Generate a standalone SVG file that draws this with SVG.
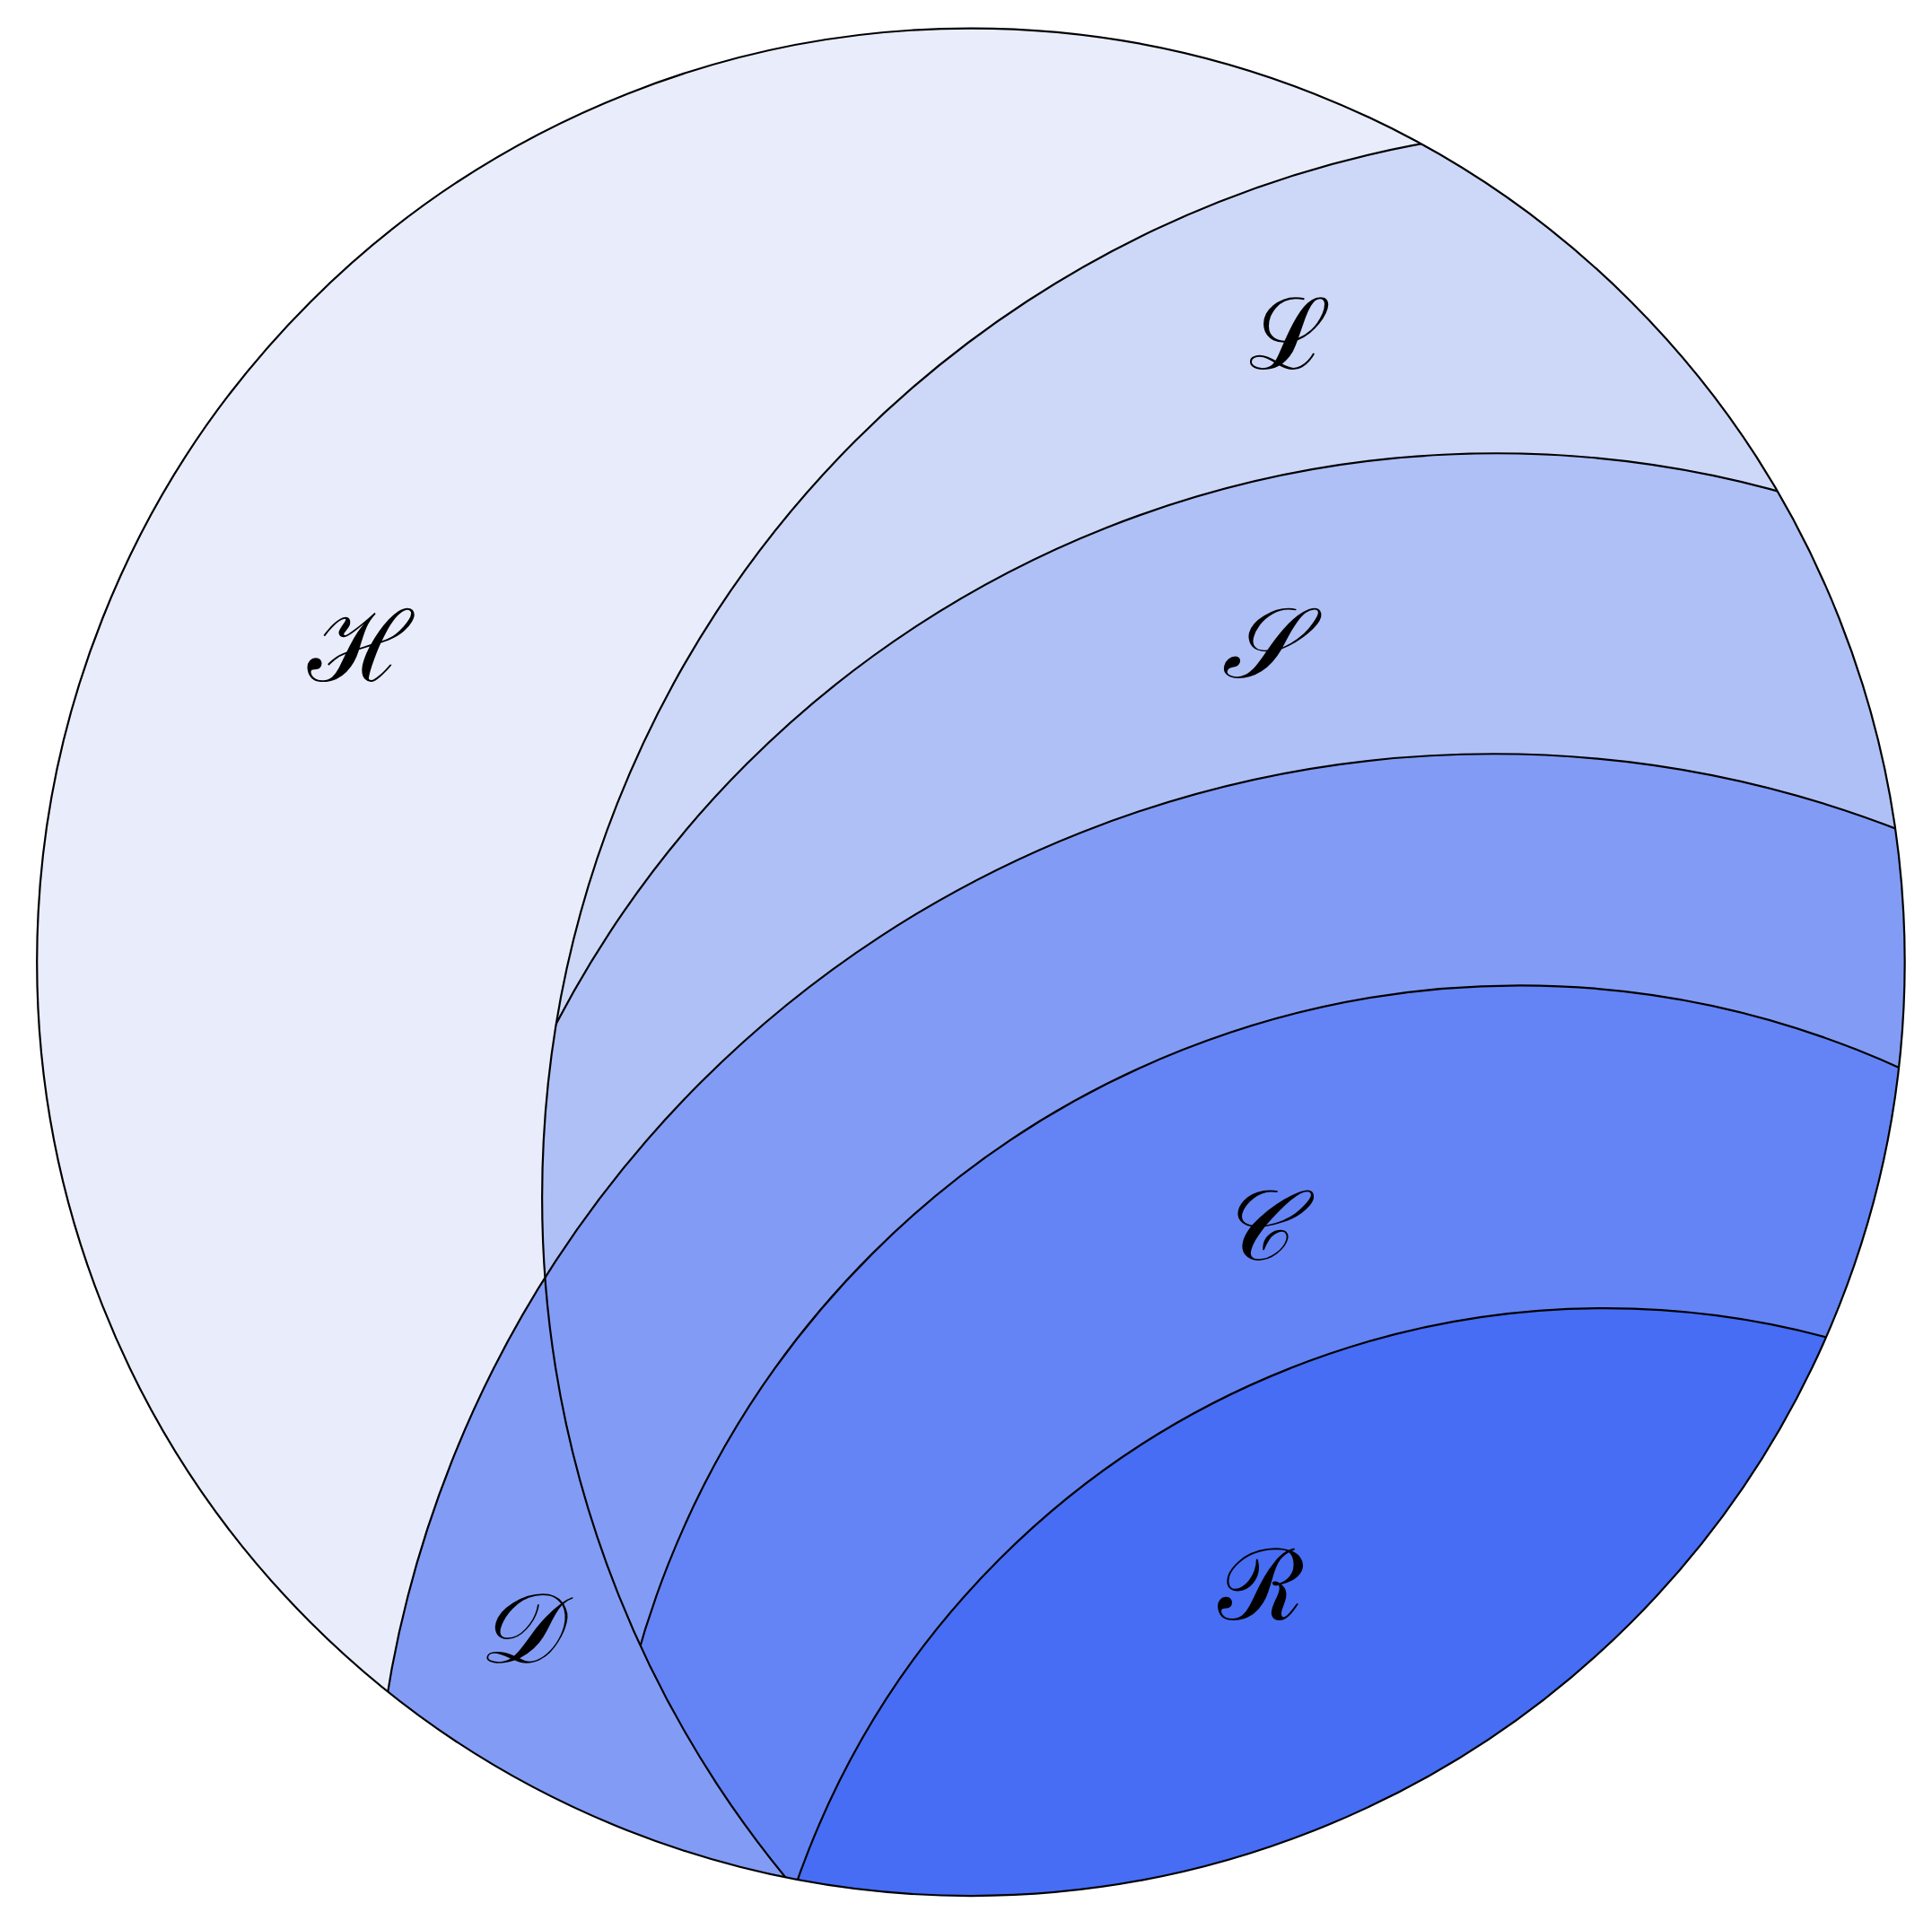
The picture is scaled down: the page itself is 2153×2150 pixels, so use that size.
<svg xmlns="http://www.w3.org/2000/svg" width="2153" height="2150" viewBox="0 0 2153 2150">
<style>
.ln{fill:none;stroke:#000;stroke-width:1.6}
.lb{font-family:"DejaVu Serif","Noto Sans",serif;font-style:italic;font-size:80px;text-anchor:middle;dominant-baseline:central;fill:#000}
</style>
<defs>
<clipPath id="cm"><circle cx="788" cy="781" r="758"/></clipPath>
<clipPath id="cl"><circle cx="1309.4" cy="972.2" r="869.4"/></clipPath>
</defs>
<rect width="2153" height="2150" fill="#fff"/>
<g transform="scale(1.373)">
<g id="H"><circle cx="788" cy="781" r="758" fill="#e9edfb"/></g>
<g clip-path="url(#cm)">
<g id="D"><circle cx="1212.1" cy="1521.4" r="909.4" fill="#829cf5"/></g>
<g clip-path="url(#cl)">
<g id="L"><rect x="0" y="0" width="1600" height="1600" fill="#cdd8f8"/></g>
<g id="S"><circle cx="1214.7" cy="1228.6" r="860.6" fill="#afc0f6"/></g>
<circle cx="1212.1" cy="1521.4" r="909.4" fill="#829cf5"/>
<g id="C"><circle cx="1233.6" cy="1543.4" r="743.4" fill="#6484f5"/></g>
<g id="R"><circle cx="1302.7" cy="1756.8" r="694.8" fill="#466df4"/></g>
</g>
<g id="connectors">
<circle class="ln" cx="1309.4" cy="972.2" r="869.4"/>
<circle class="ln" cx="1212.1" cy="1521.4" r="909.4"/>
<g clip-path="url(#cl)">
<circle class="ln" cx="1214.7" cy="1228.6" r="860.6"/>
<circle class="ln" cx="1233.6" cy="1543.4" r="743.4"/>
<circle class="ln" cx="1302.7" cy="1756.8" r="694.8"/>
</g>
</g>
</g>
<circle class="ln" cx="788" cy="781" r="758"/>
<text class="lb" x="292" y="525">ℋ</text>
<text class="lb" x="1047" y="272">ℒ</text>
<text class="lb" x="1022" y="522">𝒮</text>
<text class="lb" x="1018" y="995">𝒞</text>
<text class="lb" x="420" y="1322">𝒟</text>
<text class="lb" x="1023" y="1287">ℛ</text>
</g>
</svg>
